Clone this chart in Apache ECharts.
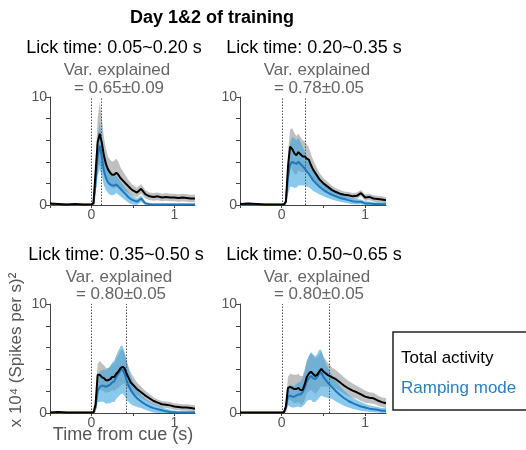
<!DOCTYPE html>
<html>
<head>
<meta charset="utf-8">
<script src="https://cdn.jsdelivr.net/npm/echarts@6/dist/echarts.min.js"></script>
<style>
  html, body { margin: 0; padding: 0; background: #fff; }
  #main { width: 526px; height: 450px; }
</style>
</head>
<body>
<div id="main"></div>
<script type="text/javascript">
// time from cue (s)
var t = [-0.5,-0.4,-0.3,-0.2,-0.1,0,
  0.025,0.05,0.075,0.1,0.125,0.15,0.175,0.2,0.225,0.25,0.275,0.3,0.325,0.35,0.375,0.4,0.425,0.45,0.475,0.5,
  0.55,0.6,0.65,0.7,0.75,0.8,0.85,0.9,0.95,1.0,1.05,1.1,1.15,1.2,1.25];

// lick time 0.05~0.20 s
var tot1 = [0.15,0.1,0.05,0.1,0.05,0.05, 0.2,3.0,5.8,6.6,5.8,4.6,3.8,3.3,3.0,2.8,2.8,3.0,2.8,2.5,2.3,2.1,1.9,1.7,1.5,1.35, 1.15,1.5,1.0,0.8,0.75,0.8,0.7,0.75,0.7,0.7,0.65,0.7,0.65,0.6,0.6];
var totSem1 = [0.05,0.05,0.05,0.05,0.05,0.05, 0.1,1.0,2.2,2.9,2.4,1.7,1.4,1.2,1.2,1.2,1.3,1.3,1.2,1.0,0.9,0.8,0.7,0.6,0.55,0.5, 0.45,0.45,0.4,0.35,0.35,0.35,0.35,0.35,0.35,0.35,0.35,0.35,0.35,0.35,0.35];
var ramp1 = [0.03,0.02,0.02,0.02,0.02,0.02, 0.1,2.0,4.5,5.5,4.5,3.2,2.5,2.1,1.9,1.8,1.8,1.9,1.7,1.5,1.3,1.1,0.9,0.7,0.55,0.45, 0.3,0.6,0.15,0.08,0.05,0.05,0.05,0.05,0.05,0.05,0.05,0.05,0.05,0.05,0.05];
var rampSem1 = [0.02,0.02,0.02,0.02,0.02,0.02, 0.1,1.0,1.8,2.2,1.8,1.4,1.1,1.0,0.95,0.9,0.85,0.8,0.75,0.7,0.65,0.6,0.55,0.5,0.45,0.4, 0.3,0.3,0.15,0.1,0.08,0.08,0.08,0.08,0.08,0.08,0.08,0.08,0.08,0.08,0.08];

// lick time 0.20~0.35 s
var tot2 = [0.1,0.15,0.1,0.05,0.05,0.05, 0.05,0.3,3.5,5.4,5.2,4.8,4.6,4.9,4.7,4.5,4.5,4.3,4.2,3.7,3.3,3.0,2.7,2.4,2.2,2.0, 1.7,1.4,1.2,1.05,0.95,0.9,0.8,0.85,1.1,0.7,0.75,0.6,0.55,0.5,0.45];
var totSem2 = [0.05,0.05,0.05,0.05,0.05,0.05, 0.05,0.3,1.2,1.6,1.9,1.9,1.8,1.7,1.6,1.5,1.4,1.3,1.15,1.0,0.9,0.8,0.7,0.6,0.55,0.5, 0.45,0.4,0.35,0.35,0.3,0.3,0.3,0.3,0.3,0.3,0.3,0.3,0.3,0.3,0.3];
var ramp2 = [0.02,0.03,0.02,0.02,0.02,0.02, 0.03,0.3,2.5,3.7,4.0,3.9,3.8,4.0,3.8,3.6,3.4,3.1,2.9,2.6,2.3,2.1,1.9,1.7,1.55,1.4, 1.15,0.95,0.8,0.65,0.55,0.45,0.35,0.3,0.3,0.15,0.15,0.1,0.1,0.08,0.08];
var rampSem2 = [0.02,0.02,0.02,0.02,0.02,0.02, 0.02,0.3,1.5,2.0,2.3,2.3,2.2,2.2,2.0,1.8,1.6,1.4,1.25,1.1,1.0,0.9,0.8,0.7,0.65,0.6, 0.5,0.45,0.4,0.35,0.32,0.3,0.28,0.25,0.22,0.2,0.18,0.15,0.15,0.15,0.15];

// lick time 0.35~0.50 s
var tot3 = [0.05,0.1,0.05,0.05,0.05,0.05, 0.05,0.8,3.5,3.5,3.3,3.2,3.0,3.0,3.1,3.3,3.3,3.6,3.8,4.1,4.25,4.1,3.6,3.2,2.8,2.6, 2.2,1.9,1.6,1.35,1.1,0.95,0.8,0.75,0.7,0.6,0.55,0.5,0.5,0.45,0.4];
var totSem3 = [0.05,0.05,0.05,0.05,0.05,0.05, 0.05,0.5,1.0,1.3,1.25,1.2,1.15,1.1,1.15,1.2,1.3,1.4,1.5,1.6,1.6,1.4,1.2,1.0,0.9,0.8, 0.6,0.5,0.45,0.4,0.35,0.3,0.3,0.3,0.3,0.3,0.3,0.3,0.3,0.3,0.3];
var ramp3 = [0.02,0.02,0.02,0.02,0.02,0.02, 0.03,0.5,2.0,2.4,2.5,2.5,2.4,2.5,2.6,2.8,2.9,3.3,3.6,3.9,4.0,3.6,3.0,2.5,2.1,1.8, 1.35,1.05,0.8,0.6,0.45,0.35,0.25,0.15,0.1,0.08,0.05,0.05,0.05,0.05,0.05];
var rampSem3 = [0.02,0.02,0.02,0.02,0.02,0.02, 0.02,0.4,1.0,1.4,1.45,1.5,1.55,1.6,1.7,1.8,1.9,2.0,2.1,2.2,2.2,2.0,1.8,1.5,1.3,1.1, 0.8,0.6,0.5,0.45,0.4,0.35,0.3,0.25,0.2,0.15,0.12,0.1,0.1,0.1,0.1];

// lick time 0.50~0.65 s
var tot4 = [0.05,0.05,0.05,0.05,0.05,0.05, 0.05,0.6,2.3,2.4,2.3,2.2,2.2,2.3,2.1,2.1,2.6,3.3,3.6,3.8,3.6,3.4,3.5,3.8,4.05,3.8, 3.5,3.3,3.1,2.8,2.5,2.25,2.05,1.9,1.7,1.5,1.4,1.35,1.15,1.0,0.9];
var totSem4 = [0.05,0.05,0.05,0.05,0.05,0.05, 0.05,0.4,1.0,1.2,1.25,1.3,1.3,1.3,1.3,1.3,1.4,1.5,1.6,1.7,1.65,1.6,1.6,1.6,1.6,1.4, 1.1,0.9,0.85,0.8,0.75,0.7,0.65,0.6,0.6,0.55,0.5,0.5,0.45,0.45,0.45];
var ramp4 = [0.02,0.02,0.02,0.02,0.02,0.02, 0.03,0.4,1.5,1.6,1.5,1.5,1.6,1.7,1.7,1.9,2.3,2.9,3.2,3.4,3.2,3.1,3.3,3.6,3.7,3.3, 2.8,2.4,2.0,1.65,1.35,1.1,0.9,0.75,0.6,0.5,0.4,0.35,0.3,0.2,0.2];
var rampSem4 = [0.02,0.02,0.02,0.02,0.02,0.02, 0.02,0.3,0.8,1.0,1.0,1.0,1.05,1.1,1.2,1.3,1.5,1.8,2.0,2.2,2.2,2.1,2.1,2.2,2.1,1.8, 1.4,1.1,0.95,0.8,0.7,0.6,0.5,0.45,0.4,0.35,0.3,0.28,0.25,0.25,0.25];

// dotted lines: cue and mean lick time
var lickLines = [[0, 0.12], [0, 0.28], [0, 0.42], [0, 0.57]];
var lickTitles = ['Lick time: 0.05~0.20 s', 'Lick time: 0.20~0.35 s', 'Lick time: 0.35~0.50 s', 'Lick time: 0.50~0.65 s'];
var varTitles = ['= 0.65\u00b10.09', '= 0.78\u00b10.05', '= 0.80\u00b10.05', '= 0.80\u00b10.05'];

var FONT = '"Liberation Sans", Arial, sans-serif';
var panels = [
  {tot: tot1, totSem: totSem1, ramp: ramp1, rampSem: rampSem1},
  {tot: tot2, totSem: totSem2, ramp: ramp2, rampSem: rampSem2},
  {tot: tot3, totSem: totSem3, ramp: ramp3, rampSem: rampSem3},
  {tot: tot4, totSem: totSem4, ramp: ramp4, rampSem: rampSem4}
];
var grids = [
  {left: 50, top: 97, width: 145, height: 108},
  {left: 240, top: 97, width: 146, height: 108},
  {left: 50, top: 304, width: 145, height: 109},
  {left: 240, top: 304, width: 146, height: 109}
];
// text centres for each panel: lick title, var line 1, var line 2
var textPos = [
  {x: 114, y1: 48, y2: 70, y3: 88},
  {x: 314, y1: 48, y2: 70, y3: 88},
  {x: 116, y1: 255, y2: 277, y3: 294},
  {x: 314, y1: 255, y2: 277, y3: 294}
];

// mean +- sem band, drawn as one polygon through the axis scales
function bandSeries(p, vals, sems, color) {
  return {
    type: 'custom', xAxisIndex: p, yAxisIndex: p, silent: true,
    data: [[t[0], vals[0]]],
    renderItem: function (params, api) {
      var pts = [];
      for (var i = 0; i < t.length; i++) pts.push(api.coord([t[i], vals[i] + sems[i]]));
      for (var j = t.length - 1; j >= 0; j--) pts.push(api.coord([t[j], Math.max(0, vals[j] - sems[j])]));
      return {type: 'polygon', shape: {points: pts}, style: {fill: color}};
    }
  };
}

// vertical dotted markers from 0 to 10
function markerSeries(p, xs) {
  return {
    type: 'custom', xAxisIndex: p, yAxisIndex: p, silent: true, z: 3,
    data: xs.map(function (v) { return [v, 10]; }),
    renderItem: function (params, api) {
      var v = api.value(0);
      var a = api.coord([v, 0]), b = api.coord([v, 10]);
      return {type: 'line', shape: {x1: Math.round(a[0]) + 0.5, y1: a[1], x2: Math.round(b[0]) + 0.5, y2: b[1]},
        style: {stroke: '#555', lineWidth: 1, lineDash: [1.5, 1.5]}};
    }
  };
}

var xAxes = [], yAxes = [], series = [], graphic = [];
grids.forEach(function (g, p) {
  xAxes.push({
    gridIndex: p, type: 'value', min: -0.5, max: 1.25, interval: 0.5,
    axisLine: {onZero: false, lineStyle: {color: '#444', width: 1}},
    axisTick: {length: 3, lineStyle: {color: '#444'}},
    splitLine: {show: false},
    axisLabel: {color: '#555', fontSize: 14, fontFamily: FONT, margin: 3,
      showMaxLabel: false,
      formatter: function (v) { return (v === 0 || v === 1) ? String(v) : ''; }}
  });
  yAxes.push({
    gridIndex: p, type: 'value', min: 0, max: 10, interval: 2,
    axisLine: {show: true, onZero: false, lineStyle: {color: '#444', width: 1}},
    axisTick: {show: true, length: 4, lineStyle: {color: '#444'}},
    splitLine: {show: false},
    axisLabel: {color: '#555', fontSize: 14, fontFamily: FONT, margin: 3,
      formatter: function (v) { return (v === 0 || v === 10) ? String(v) : ''; }}
  });

  var d = panels[p];
  series.push(bandSeries(p, d.tot, d.totSem, 'rgba(150,150,150,0.6)'));
  series.push(bandSeries(p, d.ramp, d.rampSem, 'rgba(60,165,222,0.6)'));
  series.push(markerSeries(p, lickLines[p]));

  series.push({
    name: 'Ramping mode', type: 'line', xAxisIndex: p, yAxisIndex: p,
    data: t.map(function (x, i) { return [x, d.ramp[i]]; }),
    symbol: 'none', lineStyle: {color: '#2177bd', width: 2}
  });
  series.push({
    name: 'Total activity', type: 'line', xAxisIndex: p, yAxisIndex: p,
    data: t.map(function (x, i) { return [x, d.tot[i]]; }),
    symbol: 'none', lineStyle: {color: '#000', width: 2}
  });

  var tp = textPos[p];
  graphic.push({type: 'text', x: tp.x, y: tp.y1, style: {text: lickTitles[p], fill: '#000',
    font: '18px ' + FONT, textAlign: 'center', textVerticalAlign: 'middle'}});
  graphic.push({type: 'text', x: tp.x + 3, y: tp.y2, style: {text: 'Var. explained', fill: '#666',
    font: '17px ' + FONT, textAlign: 'center', textVerticalAlign: 'middle'}});
  graphic.push({type: 'text', x: tp.x + 5, y: tp.y3, style: {text: varTitles[p], fill: '#666',
    font: '17px ' + FONT, textAlign: 'center', textVerticalAlign: 'middle'}});
});

graphic.push({type: 'text', x: 212, y: 18, style: {text: 'Day 1&2 of training', fill: '#000',
  font: 'bold 18px ' + FONT, textAlign: 'center', textVerticalAlign: 'middle'}});
graphic.push({type: 'text', x: 123, y: 435, style: {text: 'Time from cue (s)', fill: '#555',
  font: '18px ' + FONT, textAlign: 'center', textVerticalAlign: 'middle'}});
graphic.push({type: 'text', x: 16, y: 350, rotation: Math.PI / 2, style: {text: 'x 10\u2074 (Spikes per s)\u00b2', fill: '#555',
  font: '17px ' + FONT, textAlign: 'center', textVerticalAlign: 'middle'}});
// legend box
graphic.push({type: 'rect', shape: {x: 393, y: 332, width: 140, height: 78},
  style: {fill: '#fff', stroke: '#222', lineWidth: 1.5}});
graphic.push({type: 'text', x: 401, y: 358, style: {text: 'Total activity', fill: '#000',
  font: '17px ' + FONT, textAlign: 'left', textVerticalAlign: 'middle'}});
graphic.push({type: 'text', x: 401, y: 388, style: {text: 'Ramping mode', fill: '#2a7fc4',
  font: '17px ' + FONT, textAlign: 'left', textVerticalAlign: 'middle'}});

var myChart = echarts.init(document.getElementById('main'));
myChart.setOption({
  animation: false,
  backgroundColor: '#fff',
  grid: grids,
  xAxis: xAxes,
  yAxis: yAxes,
  series: series,
  graphic: graphic
});
</script>
</body>
</html>
